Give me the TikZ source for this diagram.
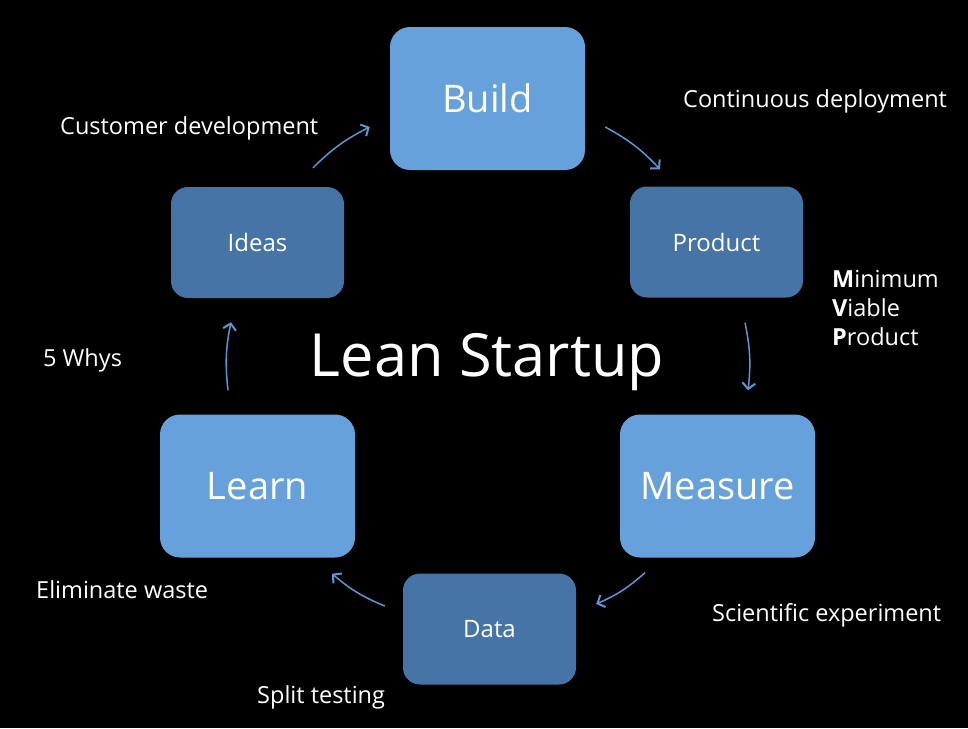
\documentclass[tikz,border=0pt]{standalone}
\usepackage{fontspec}
\setmainfont{Open Sans}
\usepackage{xcolor}
\usetikzlibrary{arrows.meta}
\definecolor{stepblue}{HTML}{66A1DC}
\definecolor{subblue}{HTML}{4674A6}
\definecolor{arrblue}{HTML}{5B97D2}

\begin{document}
\begin{tikzpicture}[x=1pt,y=-1pt]
  \tikzstyle{big}=[fill=stepblue, text=white, rounded corners=20pt, minimum width=195pt, minimum height=143pt, inner sep=0pt, font=\fontsize{38}{40}\selectfont] % the three steps
  \tikzstyle{small}=[fill=subblue, text=white, rounded corners=17pt, minimum width=173pt, minimum height=111pt, inner sep=0pt, font=\fontsize{24}{26}\selectfont] % what comes out of them
  \tikzstyle{lab}=[anchor=base west, text=white, inner sep=0pt, font=\fontsize{23.5}{29}\selectfont] % side remarks
  \tikzstyle{arr}=[arrblue, line width=1.5pt, -{Straight Barb[length=6pt,width=13pt,line width=2pt]}, bend left=9]
  \fill[black] (0,0) rectangle (968,728);
  \node[big]   (build)   at (487.5,98.5) {Build};
  \node[small] (product) at (716.5,242)  {Product};
  \node[big]   (measure) at (717.5,486)  {Measure};
  \node[small] (data)    at (489.5,629)  {Data};
  \node[big]   (learn)   at (257.5,486)  {Learn};
  \node[small] (ideas)   at (257.5,242.5) {Ideas};
  \node[anchor=base, text=white, inner sep=0pt, font=\fontsize{59.5}{62}\selectfont] (title) at (487,376) {Lean Startup};
  % the loop
  \draw[arr] ([shift={(55.5,-19)}]ideas.north) to ([shift={(-20,28.5)}]build.west);
  \draw[arr] ([shift={(20,28.5)}]build.east) to ([shift={(-56.5,-17)}]product.north);
  \draw[arr] ([shift={(28.5,25)}]product.south) to ([shift={(30.5,-24)}]measure.north);
  \draw[arr] ([shift={(-72.5,15)}]measure.south) to ([shift={(20,-25)}]data.east);
  \draw[arr] ([shift={(-18,-23)}]data.west) to ([shift={(74.5,16)}]learn.south);
  \draw[arr] ([shift={(-29.5,-24)}]learn.north) to ([shift={(-26.5,24)}]ideas.south);
  % remarks
  \node[lab] (deploy)  at (683,107) {Continuous deployment};
  \node[lab] (custdev) at (60,134)  {Customer development};
  \node[lab] (whys)    at (43,366)  {5 Whys};
  \node[lab] (waste)   at (36,598)  {Eliminate waste};
  \node[lab] (split)   at (257,703) {Split testing};
  \node[lab] (science) at (712,621) {Scientific experiment};
  \node[lab, align=left, anchor=north west] (mvp) at (832,270) {\textbf{M}inimum\\\textbf{V}iable\\\textbf{P}roduct};
\end{tikzpicture}
\end{document}
